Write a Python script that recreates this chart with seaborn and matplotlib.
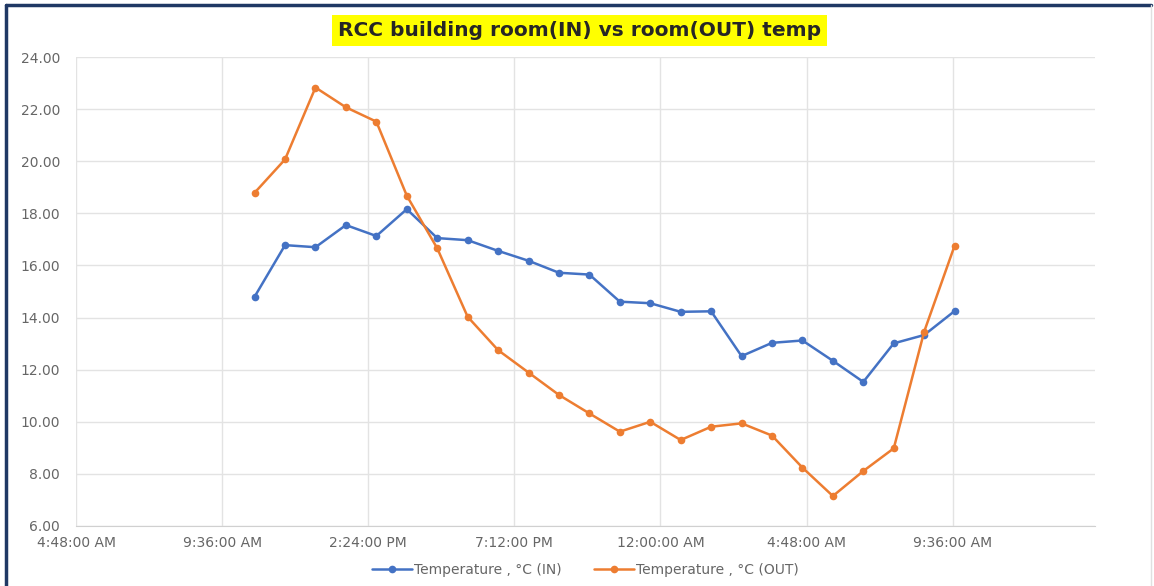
import seaborn as sns
import pandas as pd
import matplotlib.pyplot as plt
from matplotlib.ticker import FuncFormatter
from matplotlib.lines import Line2D

# hourly readings, first day 10:40 AM through next day 9:40 AM
times = ["10:40", "11:40", "12:40", "13:40", "14:40", "15:40", "16:40", "17:40",
         "18:40", "19:40", "20:40", "21:40", "22:40", "23:40", "00:40", "01:40",
         "02:40", "03:40", "04:40", "05:40", "06:40", "07:40", "08:40", "09:40"]
temp_in = [14.8, 16.78, 16.7, 17.55, 17.13, 18.16, 17.05, 16.97, 16.56, 16.18, 15.72, 15.65,
           14.61, 14.55, 14.22, 14.24, 12.52, 13.03, 13.12, 12.34, 11.53, 13.01, 13.33, 14.25]
temp_out = [18.79, 20.07, 22.83, 22.07, 21.52, 18.68, 16.66, 14.03, 12.75, 11.89, 11.03, 10.32,
            9.62, 10.0, 9.3, 9.81, 9.94, 9.47, 8.24, 7.15, 8.11, 8.98, 13.46, 16.76]
series_names = ["Temperature , °C (IN)", "Temperature , °C (OUT)"]
x_ticks = [0.2, 0.4, 0.6, 0.8, 1.0, 1.2, 1.4]


def to_day(t, i):
    h, m = map(int, t.split(":"))
    day = 1 if i >= 14 else 0
    return day + (h + m / 60) / 24


xs = [to_day(t, i) for i, t in enumerate(times)]
df = pd.DataFrame({
    "time": xs + xs,
    "temp": temp_in + temp_out,
    "series": [series_names[0]] * len(xs) + [series_names[1]] * len(xs),
})


def fmt_time(v, pos=None):
    mins = int(round((v % 1) * 24 * 60))
    h, m = divmod(mins, 60)
    ampm = "AM" if h < 12 else "PM"
    h12 = h % 12 or 12
    return f"{h12}:{m:02d}:00 {ampm}"


sns.set_style("white")
plt.rcParams['font.family'] = ['DejaVu Sans']

fig = plt.figure(figsize=(11.54, 5.86), dpi=100)
ax = fig.add_axes([0.0659, 0.1024, 0.8830, 0.8003])

sns.lineplot(data=df, x="time", y="temp", hue="series",
             palette={series_names[0]: "#4472C4", series_names[1]: "#ED7D31"},
             marker="o", markersize=5.5, markeredgewidth=0, linewidth=1.8,
             ax=ax, legend=True)

ax.set_xlim(0.2, 1.595)
ax.set_ylim(6, 24)
ax.set_xticks(x_ticks)
ax.xaxis.set_major_formatter(FuncFormatter(fmt_time))
ax.set_yticks(range(6, 25, 2))
ax.yaxis.set_major_formatter(FuncFormatter(lambda v, p: f"{v:.2f}"))
ax.grid(True, color="#E3E3E3", linewidth=1)
ax.tick_params(axis="both", colors="#666666", labelsize=10, length=0)
ax.tick_params(axis="x", pad=7)
ax.tick_params(axis="y", pad=11.5)
for s in ["top", "right", "left"]:
    ax.spines[s].set_visible(False)
ax.spines["bottom"].set_color("#D0D0D0")
ax.set_xlabel("")
ax.set_ylabel("")

ax.legend(loc="upper center", bbox_to_anchor=(0.5, -0.052), ncol=2, frameon=False,
          fontsize=10, labelcolor="#666666", handlelength=2.9, columnspacing=2.3,
          handletextpad=0.15)

fig.text(0.502, 0.948, "RCC building room(IN) vs room(OUT) temp", ha="center", va="center",
         fontsize=14.5, fontweight="semibold", color="#262626",
         bbox=dict(boxstyle="square,pad=0.3", facecolor="#FFFF00", edgecolor="none"))

# outer frame
fig.add_artist(Line2D([0.005, 0.005], [0, 0.992], transform=fig.transFigure, color="#1F3864", linewidth=2.5))
fig.add_artist(Line2D([0.005, 0.997], [0.992, 0.992], transform=fig.transFigure, color="#1F3864", linewidth=2.5))
fig.add_artist(Line2D([0.997, 0.997], [0, 0.992], transform=fig.transFigure, color="#E0E0E0", linewidth=1))

fig.savefig("out.png", dpi=100)
